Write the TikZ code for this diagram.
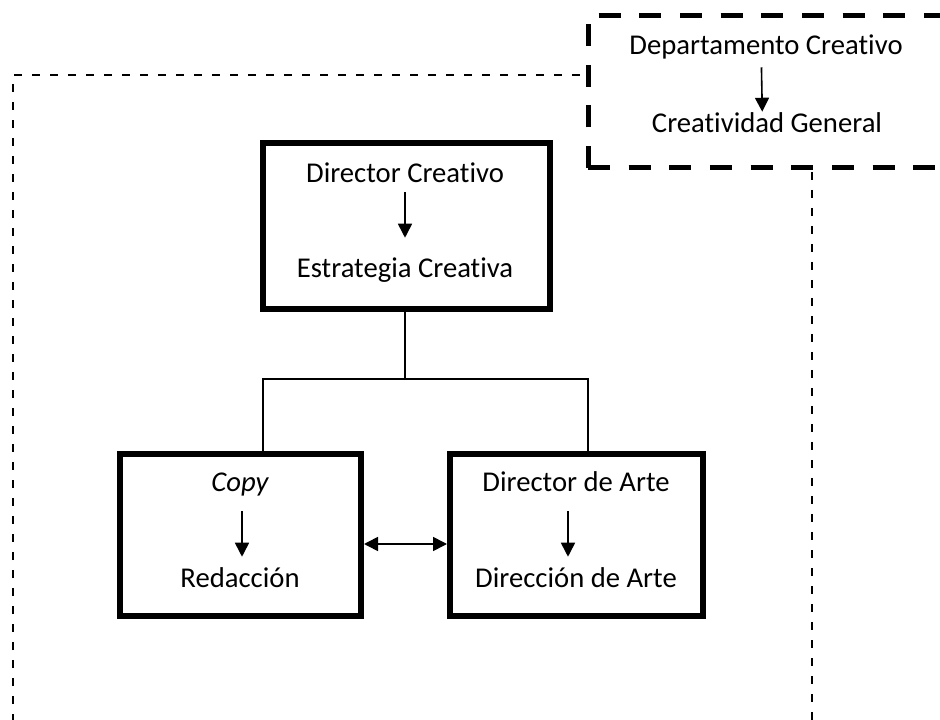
\documentclass[tikz,border=0pt]{standalone}
\usepackage{fontspec}
\setmainfont{Carlito}[Ligatures=NoCommon]
\usetikzlibrary{arrows.meta,calc}

\begin{document}
\begin{tikzpicture}[x=0.75pt,y=-0.75pt,
  caja/.style={draw,line width=4.5pt,inner sep=0pt},
  texto/.style={inner sep=0pt,text height=13.5pt,text depth=4.5pt,anchor=base,font=\fontsize{21.5}{25}\selectfont},
  flecha/.style={-{Triangle[width=10.5pt,length=10.5pt]},line width=1.2pt},
  doble/.style={{Triangle[width=10.5pt,length=10.5pt]}-{Triangle[width=10.5pt,length=10.5pt]},line width=1.2pt},
  linea/.style={line width=1.1pt},
  marco/.style={line width=3.75pt,dash pattern=on 16.5pt off 14pt},
  borde/.style={line width=1.5pt,dash pattern=on 6pt off 7.5pt}]
  \useasboundingbox (0,0) rectangle (940,720);
  \clip (0,0) rectangle (940,720);
  % marcos punteados
  \draw[borde] (13,722) -- (13,75) -- (588,75);
  \draw[borde] (812,172) -- (812,722);
  \draw[marco] (588,168) -- (588,16) -- (960,16);
  \draw[marco] (588,168) -- (960,168);
  \node[texto] (dep) at (766,55) {Departamento Creativo};
  \node[texto] (gen) at (767,133) {Creatividad General};
  \draw[flecha,shorten <=4.5pt,shorten >=2.25pt] ([xshift=-3.5pt]dep.south) -- ([xshift=-3.5pt]gen.north);
  % cajas
  \node[caja,minimum width=215.25pt,minimum height=124.5pt] (dir) at (406.5,226) {};
  \node[caja,minimum width=180.75pt,minimum height=121.5pt] (cpy) at (240.5,535) {};
  \node[caja,minimum width=189.75pt,minimum height=121.5pt] (art) at (576.5,535) {};
  \node[texto] (dc) at (405,183) {Director Creativo};
  \node[texto] (ec) at (405,278) {Estrategia Creativa};
  \draw[flecha,shorten <=2.25pt,shorten >=16.5pt] (dc) -- (ec);
  \node[texto] (cp) at (240,492) {\itshape Copy};
  \node[texto] (rd) at (240,587) {Redacción};
  \draw[flecha,shorten <=9.75pt,shorten >=9pt] ([xshift=1.5pt]cp.south) -- ([xshift=1.5pt]rd.north);
  \node[texto] (da) at (576,492) {Director de Arte};
  \node[texto] (di) at (576,587) {Dirección de Arte};
  \draw[flecha,shorten <=9.75pt,shorten >=9pt] ([xshift=-6pt]da.south) -- ([xshift=-6pt]di.north);
  % conexiones
  \coordinate (rama) at (405,379);
  \coordinate (izq) at (263,379);
  \coordinate (der) at (588,379);
  \draw[linea] (dir.south -| rama) -- (rama);
  \draw[linea] (izq |- cpy.north) -- (izq) -- (der) -- (der |- art.north);
  \draw[doble] (cpy.east |- 0,544) -- (art.west |- 0,544);
\end{tikzpicture}
\end{document}
